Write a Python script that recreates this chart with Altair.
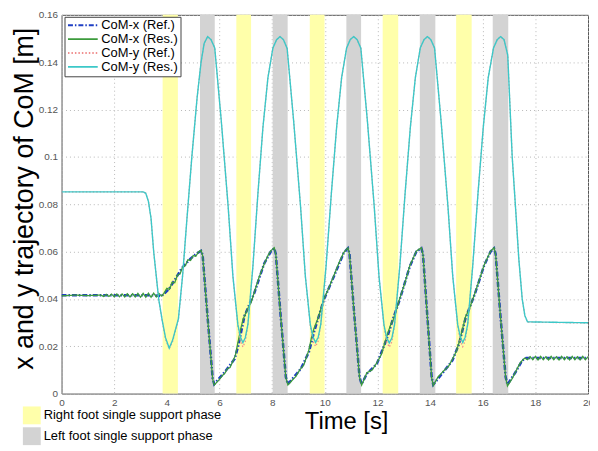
import altair as alt
import pandas as pd

# ---------------- data ----------------
series_names = ["CoM-x (Ref.)", "CoM-x (Res.)", "CoM-y (Ref.)", "CoM-y (Res.)"]
series_colors = ["#1f3fc4", "#3c9b3c", "#f09090", "#3cc8c8"]
series_dash = [[5, 2, 1.5, 2], [1, 0], [1.5, 2], [1, 0]]
series_width = [2.5, 1.3, 1.3, 1.4]

phase_names = ["Right foot single support phase", "Left foot single support phase"]
phase_colors = ["#ffffaa", "#d3d3d3"]
right_start = [3.84, 6.64, 9.43, 12.20, 14.99]
right_end = [4.42, 7.20, 9.99, 12.79, 15.58]
left_start = [5.26, 8.02, 10.82, 13.61, 16.38]
left_end = [5.82, 8.59, 11.38, 14.20, 16.97]

x_ticks = [0, 2, 4, 6, 8, 10, 12, 14, 16, 18, 20]
y_ticks = [0, 0.02, 0.04, 0.06, 0.08, 0.10, 0.12, 0.14, 0.16]

# CoM-x reference
t_xref = [0.0, 3.5, 3.8, 4.07, 4.3, 4.57, 4.9, 5.15, 5.3, 5.36, 5.55, 5.74, 5.8,
          6.2, 6.58, 6.72, 6.95, 7.33, 7.7, 7.95, 8.08, 8.14, 8.33, 8.52, 8.6,
          9.09, 9.4, 9.59, 9.97, 10.35, 10.72, 10.88, 10.94, 11.13, 11.32, 11.4,
          11.6, 11.98, 12.35, 12.6, 12.85, 13.23, 13.48, 13.67, 13.73, 13.9, 14.06, 14.12,
          14.5, 14.85, 15.1, 15.35, 15.7, 16.05, 16.3, 16.43, 16.49, 16.68, 16.87, 16.94,
          17.25, 17.5, 17.65, 20.0]
x_ref = [0.0415, 0.0415, 0.0412, 0.0440, 0.0480, 0.0530, 0.0570, 0.0593, 0.0603, 0.0585, 0.0320, 0.0065, 0.0040,
         0.0091, 0.0147, 0.0205, 0.0328, 0.0427, 0.0550, 0.0600, 0.0614, 0.0590, 0.0320, 0.0070, 0.0040,
         0.0105, 0.0176, 0.0260, 0.0398, 0.0496, 0.0594, 0.0614, 0.0590, 0.0320, 0.0070, 0.0040,
         0.0084, 0.0126, 0.0230, 0.0318, 0.0398, 0.0537, 0.0600, 0.0614, 0.0590, 0.0320, 0.0070, 0.0038,
         0.0090, 0.0140, 0.0210, 0.0320, 0.0420, 0.0540, 0.0600, 0.0614, 0.0590, 0.0320, 0.0070, 0.0038,
         0.0091, 0.0140, 0.0150, 0.0150]

# CoM-x result (with its small oscillation)
t_xres = [0.0, 0.5, 1.0, 1.5, 1.6, 1.7, 1.8, 1.9, 2.0, 2.1, 2.2, 2.3, 2.4, 2.5, 2.6, 2.7,
          2.8, 2.9, 3.0, 3.1, 3.2, 3.3, 3.4, 3.5, 3.6, 3.7, 3.8,
          3.9, 4.0, 4.1, 4.2, 4.3, 4.4, 4.5, 4.6, 4.7, 4.8, 4.9, 5.0, 5.1, 5.2, 5.3,
          5.36, 5.55, 5.74, 5.8, 5.9, 6.0, 6.1, 6.2, 6.3, 6.4, 6.5, 6.6, 6.7, 6.8, 6.9,
          7.0, 7.1, 7.2, 7.33, 7.5, 7.7, 7.85, 7.95, 8.08, 8.14, 8.33, 8.52, 8.6,
          8.75, 8.9, 9.05, 9.2, 9.4, 9.5, 9.59, 9.75, 9.97, 10.15, 10.35, 10.55, 10.72,
          10.88, 10.94, 11.13, 11.32, 11.4,
          11.6, 11.8, 11.98, 12.15, 12.35, 12.5, 12.6, 12.85, 13.05, 13.23, 13.48, 13.67,
          13.73, 13.9, 14.06, 14.12,
          14.3, 14.5, 14.7, 14.85, 15.0, 15.1, 15.35, 15.5, 15.7, 15.9, 16.05, 16.3, 16.43,
          16.49, 16.68, 16.87, 16.94,
          17.1, 17.25, 17.4, 17.5, 17.6, 17.7, 17.8, 17.9, 18.0, 18.1, 18.2, 18.3, 18.4,
          18.5, 18.6, 18.7, 18.8, 18.9, 19.0, 19.1, 19.2, 19.3, 19.4, 19.5, 19.6, 19.7,
          19.8, 19.9, 20.0]
x_res = [0.0413, 0.0416, 0.0414, 0.0416, 0.0410, 0.0419, 0.0410, 0.0420, 0.0409, 0.0421, 0.0409, 0.0421,
         0.0408, 0.0422, 0.0408, 0.0422, 0.0408, 0.0423, 0.0407, 0.0423, 0.0407, 0.0424, 0.0407, 0.0424,
         0.0408, 0.0423, 0.0412,
         0.0425, 0.0445, 0.0440, 0.0470, 0.0468, 0.0500, 0.0505, 0.0535, 0.0540, 0.0565, 0.0562, 0.0583,
         0.0580, 0.0598, 0.0605,
         0.0583, 0.0318, 0.0062, 0.0036, 0.0048, 0.0060, 0.0075, 0.0085, 0.0105, 0.0110, 0.0135, 0.0160,
         0.0215, 0.0270, 0.0315,
         0.0340, 0.0365, 0.0385, 0.0430, 0.0490, 0.0548, 0.0585, 0.0603, 0.0616, 0.0588, 0.0318, 0.0068, 0.0036,
         0.0055, 0.0072, 0.0100, 0.0120, 0.0185, 0.0240, 0.0275, 0.0320, 0.0400, 0.0445, 0.0500, 0.0555, 0.0596,
         0.0616, 0.0588, 0.0318, 0.0068, 0.0036,
         0.0088, 0.0100, 0.0130, 0.0165, 0.0240, 0.0290, 0.0312, 0.0402, 0.0470, 0.0540, 0.0602, 0.0616,
         0.0588, 0.0318, 0.0068, 0.0034,
         0.0070, 0.0094, 0.0115, 0.0145, 0.0180, 0.0215, 0.0325, 0.0360, 0.0423, 0.0490, 0.0542, 0.0602, 0.0616,
         0.0588, 0.0318, 0.0068, 0.0032,
         0.0060, 0.0092, 0.0125, 0.0140, 0.0150, 0.0143, 0.0156, 0.0143, 0.0157, 0.0142, 0.0157, 0.0143, 0.0156,
         0.0142, 0.0157, 0.0143, 0.0156, 0.0142, 0.0157, 0.0143, 0.0156, 0.0142, 0.0157, 0.0143, 0.0156, 0.0142,
         0.0157, 0.0143, 0.0156]

# CoM-y reference and result
t_y = [0.0, 3.1, 3.2, 3.3, 3.4, 3.5, 3.69, 3.82, 3.95, 4.09, 4.22, 4.44, 4.6, 4.76, 4.95, 5.15, 5.3, 5.42, 5.55,
       5.68, 5.82, 6.07, 6.33, 6.51, 6.70, 6.80, 6.89, 6.98, 7.08, 7.27, 7.46, 7.65, 7.84, 8.03, 8.17, 8.30,
       8.43, 8.57, 8.82, 9.08, 9.26, 9.45, 9.55, 9.65, 9.75, 9.85, 10.05, 10.25, 10.45, 10.64, 10.83, 10.97, 11.10,
       11.23, 11.37, 11.62, 11.88, 12.06, 12.25, 12.35, 12.45, 12.55, 12.65, 12.85, 13.05, 13.25, 13.44, 13.63, 13.77, 13.90,
       14.03, 14.17, 14.42, 14.68, 14.86, 15.05, 15.15, 15.24, 15.33, 15.43, 15.62, 15.82, 16.02, 16.21, 16.41, 16.55, 16.68,
       16.81, 16.95, 17.12, 17.25, 17.37, 17.5, 17.6, 17.7, 20.0]
y_ref = [0.0852, 0.0852, 0.0846, 0.0812, 0.0740, 0.0600, 0.0400, 0.0310, 0.0230, 0.0189, 0.0220, 0.0314, 0.0500,
         0.0733, 0.1000, 0.1250, 0.1400, 0.1480, 0.1508,
         0.1495, 0.1460, 0.1150, 0.0789, 0.0496, 0.0286, 0.0220, 0.0197, 0.0220, 0.0290, 0.0538, 0.0845, 0.1124,
         0.1334, 0.1460, 0.1495, 0.1508,
         0.1495, 0.1458, 0.1148, 0.0790, 0.0498, 0.0288, 0.0222, 0.0199, 0.0222, 0.0292, 0.0540, 0.0846, 0.1125,
         0.1335, 0.1460, 0.1496, 0.1508,
         0.1495, 0.1459, 0.1150, 0.0788, 0.0495, 0.0285, 0.0219, 0.0196, 0.0219, 0.0289, 0.0537, 0.0844, 0.1124,
         0.1334, 0.1461, 0.1495, 0.1508,
         0.1495, 0.1460, 0.1149, 0.0789, 0.0497, 0.0287, 0.0221, 0.0198, 0.0221, 0.0291, 0.0539, 0.0845, 0.1124,
         0.1335, 0.1460, 0.1495, 0.1508,
         0.1495, 0.1430, 0.1000, 0.0780, 0.0570, 0.0400, 0.0330, 0.0302, 0.0298]
y_res = [0.0852, 0.0852, 0.0846, 0.0812, 0.0740, 0.0600, 0.0400, 0.0312, 0.0236, 0.0192, 0.0226, 0.0316, 0.0500,
         0.0733, 0.1000, 0.1250, 0.1400, 0.1480, 0.1508,
         0.1495, 0.1460, 0.1150, 0.0789, 0.0496, 0.0290, 0.0238, 0.0215, 0.0236, 0.0292, 0.0538, 0.0845, 0.1124,
         0.1334, 0.1460, 0.1495, 0.1508,
         0.1495, 0.1458, 0.1148, 0.0790, 0.0498, 0.0292, 0.0240, 0.0216, 0.0238, 0.0294, 0.0540, 0.0846, 0.1125,
         0.1335, 0.1460, 0.1496, 0.1508,
         0.1495, 0.1459, 0.1150, 0.0788, 0.0495, 0.0289, 0.0236, 0.0214, 0.0235, 0.0291, 0.0537, 0.0844, 0.1124,
         0.1334, 0.1461, 0.1495, 0.1508,
         0.1495, 0.1460, 0.1149, 0.0789, 0.0497, 0.0291, 0.0239, 0.0216, 0.0237, 0.0293, 0.0539, 0.0845, 0.1124,
         0.1335, 0.1460, 0.1495, 0.1508,
         0.1495, 0.1430, 0.1000, 0.0780, 0.0570, 0.0400, 0.0330, 0.0303, 0.0299]

# ---------------- tables ----------------
frames = []
for name, ts, vs in [(series_names[0], t_xref, x_ref), (series_names[1], t_xres, x_res),
                     (series_names[2], t_y, y_ref), (series_names[3], t_y, y_res)]:
    frames.append(pd.DataFrame({"t": ts, "v": vs, "series": name}))
lines_df = pd.concat(frames, ignore_index=True)

bands_df = pd.concat([
    pd.DataFrame({"start": right_start, "end": right_end, "phase": phase_names[0]}),
    pd.DataFrame({"start": left_start, "end": left_end, "phase": phase_names[1]}),
], ignore_index=True)

FONT = "Liberation Sans"

x_scale = alt.Scale(domain=[0, 20], nice=False, zero=False)
y_scale = alt.Scale(domain=[0, 0.16], nice=False)

x_axis = alt.Axis(values=x_ticks, title="Time [s]", grid=True, ticks=False, tickSize=0, domain=False,
                  labelFlush=False, labelPadding=4, labelFontSize=10, labelColor="#555555",
                  titleFontSize=24, titleFontWeight="normal", titleColor="black",
                  titleX=287, titleY=35, titleAlign="center", titleBaseline="alphabetic",
                  gridDash=[1, 3], gridColor="#b8b8b8")
y_axis = alt.Axis(values=y_ticks, format="~g", title="x and y trajectory of CoM [m]", grid=True,
                  ticks=False, tickSize=0, domain=False, labelFlush=False, labelPadding=4,
                  labelFontSize=10, labelColor="#555555",
                  titleFontSize=27, titleFontWeight="normal", titleColor="black",
                  titleX=-29, titleY=185, titleAngle=270, titleAlign="center", titleBaseline="alphabetic",
                  gridDash=[1, 3], gridColor="#b8b8b8")

line_legend = alt.Legend(title=None, orient="none", legendX=3, legendY=2, padding=2,
                         strokeColor="#444444", fillColor="white",
                         symbolType="M-1,0H5", symbolSize=100, symbolStrokeWidth=1.8,
                         labelOffset=22, labelFontSize=13, labelColor="black", rowPadding=0,
                         labelFont=FONT, labelLimit=0)

color_enc = alt.Color("series:N", scale=alt.Scale(domain=series_names, range=series_colors),
                      legend=line_legend)
dash_enc = alt.StrokeDash("series:N", scale=alt.Scale(domain=series_names, range=series_dash),
                          legend=line_legend)

bands = alt.Chart(bands_df).mark_rect().encode(
    x=alt.X("start:Q", scale=x_scale, axis=x_axis),
    x2="end:Q",
    fill=alt.Fill("phase:N", scale=alt.Scale(domain=phase_names, range=phase_colors),
                  legend=alt.Legend(title=None, orient="none", legendX=-39, legendY=395, padding=0,
                                    symbolType="square", symbolSize=324, symbolStrokeWidth=0,
                                    labelFontSize=13, labelColor="black", labelOffset=3,
                                    rowPadding=3, labelFont=FONT, symbolOpacity=1, labelLimit=0)),
)

base = alt.Chart(lines_df)
layers = [bands]
for name, w in zip(series_names, series_width):
    layers.append(
        base.transform_filter(alt.datum.series == name)
        .mark_line(strokeWidth=w, strokeCap="butt", clip=True)
        .encode(
            x=alt.X("t:Q", scale=x_scale, axis=x_axis),
            y=alt.Y("v:Q", scale=y_scale, axis=y_axis),
            color=color_enc,
            strokeDash=dash_enc,
            order="t:Q",
        )
    )

chart = alt.layer(*layers).properties(
    width=531, height=382,
    autosize=alt.AutoSizeParams(type="none"),
    padding={"left": 54, "top": 5, "right": 2, "bottom": 52},
).configure(font=FONT).configure_view(stroke="#555555", strokeWidth=1)

chart.save("out.html", embed_options={"renderer": "svg", "actions": False})
